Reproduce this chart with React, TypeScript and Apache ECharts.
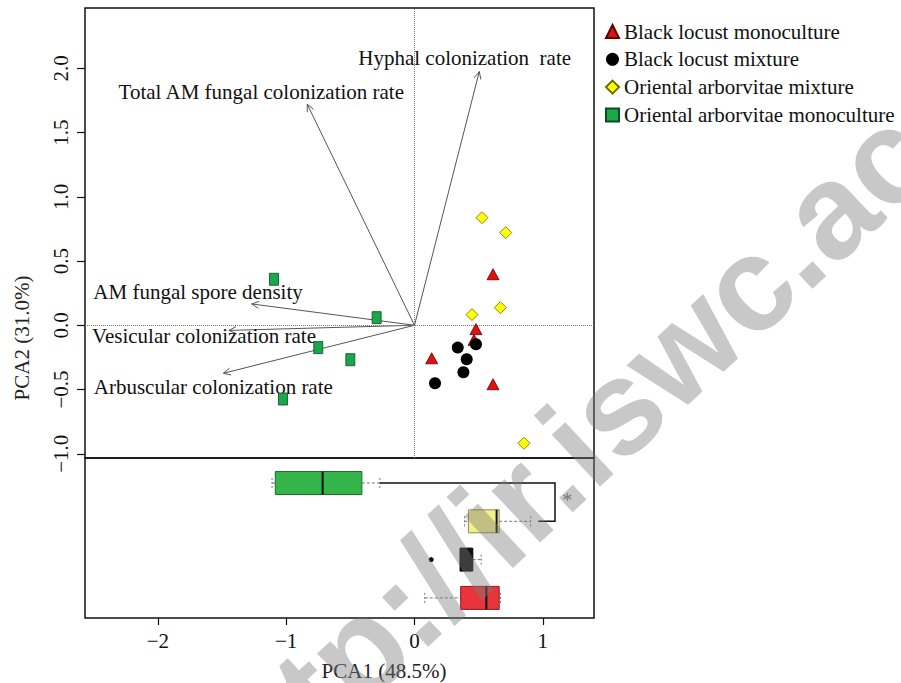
import React, { useEffect, useRef } from 'react';
import * as echarts from 'echarts';

// ---- data ----
const groups = [
  'Black locust monoculture',
  'Black locust mixture',
  'Oriental arborvitae mixture',
  'Oriental arborvitae monoculture',
];
const blmX = [0.612, 0.479, 0.464, 0.134, 0.612];
const blmY = [0.397, -0.03, -0.114, -0.257, -0.459];
const blxX = [0.337, 0.479, 0.407, 0.381, 0.16];
const blxY = [-0.174, -0.148, -0.265, -0.366, -0.451];
const oaxX = [0.526, 0.711, 0.669, 0.448, 0.853];
const oaxY = [0.837, 0.721, 0.137, 0.083, -0.918];
const oamX = [-1.095, -0.295, -0.75, -0.5, -1.025];
const oamY = [0.358, 0.059, -0.174, -0.268, -0.574];

const variables = [
  'Hyphal colonization  rate',
  'Total AM fungal colonization rate',
  'AM fungal spore density',
  'Vesicular colonization rate',
  'Arbuscular colonization rate',
];
const loadX = [0.505, -0.836, -1.269, -1.446, -1.49];
const loadY = [1.974, 1.72, 0.166, -0.04, -0.374];
const labelX = [0.391, -1.194, -1.687, -1.64, -1.568];
const labelY = [2.08, 1.813, 0.257, -0.081, -0.478];

const boxGroups = [
  'Oriental arborvitae monoculture',
  'Oriental arborvitae mixture',
  'Black locust mixture',
  'Black locust monoculture',
];
const boxMin = [-1.11, 0.39, 0.355, 0.08];
const boxQ1 = [-1.085, 0.42, 0.355, 0.36];
const boxMed = [-0.716, 0.64, 0.45, 0.56];
const boxQ3 = [-0.41, 0.66, 0.453, 0.66];
const boxMax = [-0.27, 0.905, 0.52, 0.67];
const outlierX = [0.13];
const outlierGroup = [2];
const bracketX = [-0.27, 1.095, 1.095, 0.965];
const bracketY = [0, 0, 1, 1];
const sigX = [1.19];
const sigY = [0.45];
const sigLabel = '*';

const xTicks = [-2, -1, 0, 1];
const yTicks = [-1, -0.5, 0, 0.5, 1, 1.5, 2];
const xTitle = 'PCA1 (48.5%)';
const yTitle = 'PCA2 (31.0%)';
const watermark = 'http://ir.iswc.ac.cn';

// ---- styles ----
const SERIF = "'Liberation Serif', 'Times New Roman', serif";
const boxFill = ['#35b44a', '#f3ef8a', '#111111', '#e8343b'];
const boxStroke = ['#1c6e2c', '#8a8a50', '#000000', '#8b1a1a'];

const fmtMinus = (v: number, d: number) => {
  const s = d > 0 ? Math.abs(v).toFixed(d) : String(Math.abs(v));
  return (v < 0 ? '\u2212' : '') + s;
};

const hiddenAxis = {
  show: false,
  axisLine: { show: false, onZero: false },
  axisTick: { show: false },
  axisLabel: { show: false },
  splitLine: { show: false },
};

export default function App() {
  const ref = useRef<HTMLDivElement>(null);
  useEffect(() => {
    if (!ref.current) return;
    const chart = echarts.init(ref.current, undefined, { renderer: 'svg' });
    const xMin = -2.568;
    const xMax = 1.399;
    const zip = (xs: number[], ys: number[]) => xs.map((x, i) => [x, ys[i]]);

    const option: any = {
      animation: false,
      backgroundColor: '#ffffff',
      legend: {
        data: groups,
        orient: 'vertical',
        left: 605,
        top: 21,
        padding: 0,
        itemWidth: 13,
        itemHeight: 13,
        itemGap: 6.8,
        textStyle: { fontSize: 21, fontFamily: SERIF, color: '#111', lineHeight: 21 },
      },
      grid: [
        { left: 85, top: 8, width: 509, height: 450, show: true, borderColor: '#111', borderWidth: 1.5 },
        { left: 85, top: 458, width: 509, height: 160, show: true, borderColor: '#111', borderWidth: 1.5 },
      ],
      xAxis: [
        { gridIndex: 0, type: 'value', min: xMin, max: xMax, ...hiddenAxis },
        {
          gridIndex: 1,
          type: 'value',
          min: xMin,
          max: xMax,
          position: 'bottom',
          axisLine: { show: false, onZero: false },
          splitLine: { show: false },
          axisTick: { show: true, customValues: xTicks, length: 7, lineStyle: { color: '#111', width: 1.2 } },
          axisLabel: {
            customValues: xTicks,
            margin: 12,
            fontSize: 21,
            fontFamily: SERIF,
            color: '#111',
            formatter: (v: number) => fmtMinus(v, 0),
          },
        },
      ],
      yAxis: [
        {
          gridIndex: 0,
          type: 'value',
          min: -1.033,
          max: 2.469,
          position: 'left',
          axisLine: { show: false, onZero: false },
          splitLine: { show: false },
          axisTick: { show: true, customValues: yTicks, length: 8, lineStyle: { color: '#111', width: 1.2 } },
          axisLabel: {
            customValues: yTicks,
            rotate: 90,
            margin: 14,
            fontSize: 21,
            fontFamily: SERIF,
            color: '#111',
            formatter: (v: number) => fmtMinus(v, 1),
          },
        },
        { gridIndex: 1, type: 'value', min: -0.653, max: 3.525, inverse: true, ...hiddenAxis },
      ],
      series: [
        {
          name: groups[0],
          type: 'scatter',
          xAxisIndex: 0,
          yAxisIndex: 0,
          symbol: 'triangle',
          symbolSize: [12, 11],
          z: 5,
          itemStyle: { color: '#e01010', borderColor: '#5a0000', borderWidth: 0.8, opacity: 1 },
          data: zip(blmX, blmY),
          markLine: {
            silent: true,
            symbol: ['none', 'none'],
            label: { show: false },
            lineStyle: { color: '#777', type: 'dotted', width: 1 },
            data: [{ xAxis: 0 }, { yAxis: 0 }],
          },
        },
        {
          name: groups[1],
          type: 'scatter',
          xAxisIndex: 0,
          yAxisIndex: 0,
          symbol: 'circle',
          symbolSize: 12,
          z: 5,
          itemStyle: { color: '#000', opacity: 1 },
          data: zip(blxX, blxY),
        },
        {
          name: groups[2],
          type: 'scatter',
          xAxisIndex: 0,
          yAxisIndex: 0,
          symbol: 'diamond',
          symbolSize: 12,
          z: 5,
          itemStyle: { color: '#ffff00', borderColor: '#6b6b00', borderWidth: 0.8, opacity: 1 },
          data: zip(oaxX, oaxY),
        },
        {
          name: groups[3],
          type: 'scatter',
          xAxisIndex: 0,
          yAxisIndex: 0,
          symbol: 'rect',
          symbolSize: [9, 12],
          z: 5,
          itemStyle: { color: '#1aa84a', borderColor: '#0a4a20', borderWidth: 0.8, opacity: 1 },
          data: zip(oamX, oamY),
        },
        {
          name: 'loadings',
          type: 'custom',
          xAxisIndex: 0,
          yAxisIndex: 0,
          z: 3,
          silent: true,
          data: variables.map((_, i) => [loadX[i], loadY[i], labelX[i], labelY[i]]),
          renderItem: (params: any, api: any) => {
            const o = api.coord([0, 0]);
            const e = api.coord([api.value(0), api.value(1)]);
            const l = api.coord([api.value(2), api.value(3)]);
            const ang = Math.atan2(e[1] - o[1], e[0] - o[0]);
            const len = 8;
            const sp = Math.PI / 7;
            const h1 = [e[0] - len * Math.cos(ang - sp), e[1] - len * Math.sin(ang - sp)];
            const h2 = [e[0] - len * Math.cos(ang + sp), e[1] - len * Math.sin(ang + sp)];
            return {
              type: 'group',
              children: [
                { type: 'line', shape: { x1: o[0], y1: o[1], x2: e[0], y2: e[1] }, style: { stroke: '#555', lineWidth: 1 } },
                { type: 'polyline', shape: { points: [h1, e, h2] }, style: { stroke: '#555', lineWidth: 1, fill: 'none' } },
                {
                  type: 'text',
                  x: l[0],
                  y: l[1],
                  style: {
                    text: variables[params.dataIndex],
                    fontSize: 21,
                    fontFamily: SERIF,
                    fill: '#111',
                    textAlign: 'center',
                    textVerticalAlign: 'middle',
                  },
                },
              ],
            };
          },
        },
        {
          name: 'boxes',
          type: 'custom',
          xAxisIndex: 1,
          yAxisIndex: 1,
          z: 4,
          silent: true,
          encode: { x: [1, 2, 3, 4, 5], y: 0 },
          data: boxGroups.map((_, i) => [i, boxMin[i], boxQ1[i], boxMed[i], boxQ3[i], boxMax[i]]),
          renderItem: (params: any, api: any) => {
            const i = params.dataIndex;
            const c = api.value(0);
            const pMin = api.coord([api.value(1), c]);
            const pQ1 = api.coord([api.value(2), c]);
            const pMed = api.coord([api.value(3), c]);
            const pQ3 = api.coord([api.value(4), c]);
            const pMax = api.coord([api.value(5), c]);
            const h = api.size([0, 1])[1] * 0.6;
            const y = pMed[1];
            const whisk = { stroke: '#777', lineWidth: 1, lineDash: [3, 2] };
            const cap = { stroke: '#777', lineWidth: 1, lineDash: [2, 2] };
            const children: any[] = [
              { type: 'line', shape: { x1: pMin[0], y1: y, x2: pQ1[0], y2: y }, style: whisk },
              { type: 'line', shape: { x1: pQ3[0], y1: y, x2: pMax[0], y2: y }, style: whisk },
              { type: 'line', shape: { x1: pMin[0], y1: y - 5, x2: pMin[0], y2: y + 5 }, style: cap },
              { type: 'line', shape: { x1: pMax[0], y1: y - 5, x2: pMax[0], y2: y + 5 }, style: cap },
              {
                type: 'rect',
                shape: { x: pQ1[0], y: y - h / 2, width: pQ3[0] - pQ1[0], height: h },
                style: { fill: boxFill[i], stroke: boxStroke[i], lineWidth: 1 },
              },
              { type: 'line', shape: { x1: pMed[0], y1: y - h / 2, x2: pMed[0], y2: y + h / 2 }, style: { stroke: '#111', lineWidth: 2 } },
            ];
            outlierGroup.forEach((g, k) => {
              if (g === i) {
                const p = api.coord([outlierX[k], g]);
                children.push({ type: 'circle', shape: { cx: p[0], cy: p[1], r: 2.5 }, style: { fill: '#000' } });
              }
            });
            if (i === 0) {
              const pts = bracketX.map((x, k) => api.coord([x, bracketY[k]]));
              children.push({ type: 'polyline', shape: { points: pts }, style: { stroke: '#111', lineWidth: 1.5, fill: 'none' } });
              sigX.forEach((x, k) => {
                const p = api.coord([x, sigY[k]]);
                children.push({
                  type: 'text',
                  x: p[0],
                  y: p[1],
                  style: { text: sigLabel, fontSize: 20, fontFamily: SERIF, fill: '#777', textAlign: 'center', textVerticalAlign: 'middle' },
                });
              });
            }
            return { type: 'group', children };
          },
        },
      ],
      graphic: [
        {
          type: 'text',
          x: 22,
          y: 338,
          rotation: Math.PI / 2,
          style: { text: yTitle, fontSize: 21, fontFamily: SERIF, fill: '#222', textAlign: 'center', textVerticalAlign: 'middle' },
        },
        {
          type: 'text',
          x: 384,
          y: 671,
          style: { text: xTitle, fontSize: 21, fontFamily: SERIF, fill: '#222', textAlign: 'center', textVerticalAlign: 'middle' },
        },
        {
          type: 'text',
          x: 627,
          y: 398,
          z: 100,
          silent: true,
          rotation: 0.75,
          style: {
            text: watermark,
            fontSize: 134,
            fontWeight: 'bold',
            fontFamily: 'Liberation Sans',
            fill: 'rgba(125,125,125,0.42)',
            textAlign: 'center',
            textVerticalAlign: 'middle',
          },
        },
      ],
    };
    chart.setOption(option);
    return () => chart.dispose();
  }, []);
  return <div ref={ref} style={{ position: 'absolute', left: 0, top: 0, width: 901, height: 683 }} />;
}
